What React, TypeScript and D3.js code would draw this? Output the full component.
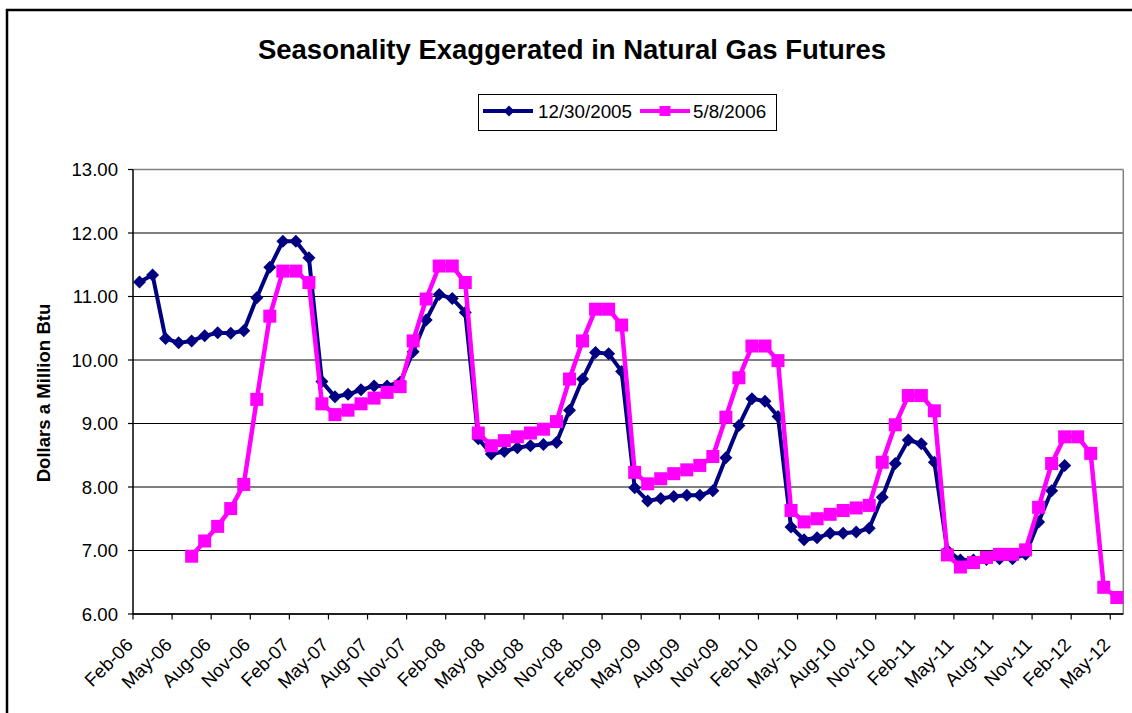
import React from "react";
import * as d3 from "d3";

// ---- Data ----
const months: Date[] = d3.timeMonth.range(new Date(2006, 1, 1), new Date(2012, 5, 1)); // Feb-06 .. May-12
const fmtMonth = d3.timeFormat("%b-%y");
const categories: string[] = months.map((m) => fmtMonth(m));

const seriesNames = ["12/30/2005", "5/8/2006"];

// 12/30/2005 futures strip: Feb-06 .. Jan-12
const blueStart = "Feb-06";
const blueValues = [
  11.23, 11.34, 10.34, 10.27, 10.30, 10.38, 10.43, 10.42, 10.46, 10.98, 11.46,
  11.87, 11.87, 11.61, 9.66, 9.42, 9.46, 9.53, 9.59, 9.59, 9.65, 10.13, 10.63,
  11.03, 10.97, 10.75, 8.76, 8.52, 8.56, 8.62, 8.65, 8.67, 8.70, 9.21, 9.70,
  10.12, 10.10, 9.82, 7.99, 7.78, 7.82, 7.85, 7.87, 7.87, 7.94, 8.46, 8.97,
  9.39, 9.35, 9.11, 7.37, 7.17, 7.20, 7.27, 7.27, 7.29, 7.35, 7.84, 8.37,
  8.74, 8.68, 8.39, 7.00, 6.85, 6.85, 6.86, 6.87, 6.87, 6.94, 7.45, 7.94,
  8.34,
];

// 5/8/2006 futures strip: Jun-06 .. May-12
const pinkStart = "Jun-06";
const pinkValues = [
  6.91, 7.15, 7.38, 7.66, 8.04, 9.38, 10.69,
  11.40, 11.40, 11.22, 9.31, 9.14, 9.21, 9.31, 9.40, 9.49, 9.58, 10.30, 10.96,
  11.48, 11.48, 11.22, 8.85, 8.65, 8.73, 8.79, 8.85, 8.91, 9.03, 9.70, 10.30,
  10.80, 10.80, 10.55, 8.23, 8.05, 8.13, 8.21, 8.27, 8.34, 8.48, 9.10, 9.72,
  10.22, 10.22, 9.99, 7.63, 7.45, 7.50, 7.57, 7.63, 7.67, 7.71, 8.39, 8.98,
  9.44, 9.44, 9.20, 6.93, 6.74, 6.81, 6.89, 6.94, 6.94, 7.01, 7.68, 8.37,
  8.79, 8.79, 8.53, 6.42, 6.26,
];

const yTicks = [6, 7, 8, 9, 10, 11, 12, 13];
const xTickLabels = categories.filter((_, i) => i % 3 === 0);

const title = "Seasonality Exaggerated in Natural Gas Futures";
const yLabel = "Dollars a Million Btu";

// ---- Layout ----
const W = 1132;
const H = 713;
const plot = { left: 133, right: 1123.3, top: 169.5, bottom: 614 };
const FONT = "'Liberation Sans', Arial, Helvetica, sans-serif";
const BLUE = "#000080";
const PINK = "#FF00FF";

type Pt = { cat: string; v: number };
function toPoints(start: string, values: number[]): Pt[] {
  const s = categories.indexOf(start);
  return values.map((v, i) => ({ cat: categories[s + i], v }));
}

export default function App() {
  const x = d3.scaleBand<string>().domain(categories).range([plot.left, plot.right]).padding(0);
  const bw = x.bandwidth();
  const y = d3.scaleLinear().domain([6, 13]).range([plot.bottom, plot.top]);
  const cx = (c: string) => (x(c) as number) + bw / 2;

  const bluePts = toPoints(blueStart, blueValues);
  const pinkPts = toPoints(pinkStart, pinkValues);

  const line = d3
    .line<Pt>()
    .x((d) => cx(d.cat))
    .y((d) => y(d.v));

  const fmtY = d3.format(".2f");
  const r = 6.5;
  const diamond = (px: number, py: number, rr: number) =>
    `M${px},${py - rr}L${px + rr},${py}L${px},${py + rr}L${px - rr},${py}Z`;

  return (
    <svg
      width={W}
      height={H}
      style={{ position: "absolute", left: 0, top: 0, background: "#fff" }}
      fontFamily={FONT}
    >
      <rect x={0} y={0} width={W} height={H} fill="#fff" />
      {/* outer chart border */}
      <rect x={7} y={10} width={W + 50} height={H + 50} fill="none" stroke="#000" strokeWidth={2.5} />

      {/* title */}
      <text x={572} y={59} textAnchor="middle" fontSize={27.5} fontWeight="bold" fill="#000">
        {title}
      </text>

      {/* legend */}
      <rect x={478.5} y={94.5} width={298} height={36} fill="#fff" stroke="#000" strokeWidth={1} />
      <line x1={483} x2={533} y1={111} y2={111} stroke={BLUE} strokeWidth={4} />
      <path d={diamond(509, 111, 5.5)} fill={BLUE} />
      <text x={538} y={118} fontSize={18.8} fill="#000">
        {seriesNames[0]}
      </text>
      <line x1={640} x2={690} y1={111} y2={111} stroke={PINK} strokeWidth={4} />
      <rect x={659.5} y={106} width={11} height={10} fill={PINK} />
      <text x={693} y={118} fontSize={18.8} fill="#000">
        {seriesNames[1]}
      </text>

      {/* gridlines */}
      {yTicks.map((t) => (
        <line
          key={"g" + t}
          x1={plot.left}
          x2={plot.right}
          y1={y(t)}
          y2={y(t)}
          stroke={t === 13 ? "#808080" : "#000"}
          strokeWidth={t === 13 ? 1.5 : 1}
        />
      ))}
      {/* right border */}
      <line x1={plot.right} x2={plot.right} y1={plot.top} y2={plot.bottom} stroke="#808080" strokeWidth={1.5} />

      {/* y axis */}
      <line x1={plot.left} x2={plot.left} y1={plot.top} y2={plot.bottom} stroke="#000" strokeWidth={1.5} />
      {yTicks.map((t) => (
        <g key={"yt" + t}>
          <line x1={plot.left - 5} x2={plot.left} y1={y(t)} y2={y(t)} stroke="#000" strokeWidth={1.2} />
          <text x={118} y={y(t) + 6.6} textAnchor="end" fontSize={18.6} fill="#000">
            {fmtY(t)}
          </text>
        </g>
      ))}

      {/* x axis */}
      <line x1={plot.left} x2={plot.right} y1={plot.bottom} y2={plot.bottom} stroke="#000" strokeWidth={1.5} />
      {xTickLabels.map((c) => {
        const tx = x(c) as number;
        return (
          <g key={"xt" + c}>
            <line x1={tx} x2={tx} y1={plot.bottom} y2={plot.bottom + 5.5} stroke="#000" strokeWidth={1.2} />
            <text
              transform={`translate(${tx + 1},${plot.bottom + 32}) rotate(-45)`}
              textAnchor="end"
              fontSize={18.6}
              fill="#000"
            >
              {c}
            </text>
          </g>
        );
      })}

      {/* y label */}
      <text
        transform={`translate(50,393) rotate(-90)`}
        textAnchor="middle"
        fontSize={18.6}
        fontWeight="bold"
        fill="#000"
      >
        {yLabel}
      </text>

      {/* series 1 */}
      <path d={line(bluePts) || ""} fill="none" stroke={BLUE} strokeWidth={4} strokeLinejoin="round" />
      {bluePts.map((d) => (
        <path key={"b" + d.cat} d={diamond(cx(d.cat), y(d.v), r)} fill={BLUE} />
      ))}

      {/* series 2 */}
      <path d={line(pinkPts) || ""} fill="none" stroke={PINK} strokeWidth={4.5} strokeLinejoin="round" />
      {pinkPts.map((d) => (
        <rect key={"p" + d.cat} x={cx(d.cat) - r} y={y(d.v) - r} width={2 * r} height={2 * r} fill={PINK} />
      ))}
    </svg>
  );
}
